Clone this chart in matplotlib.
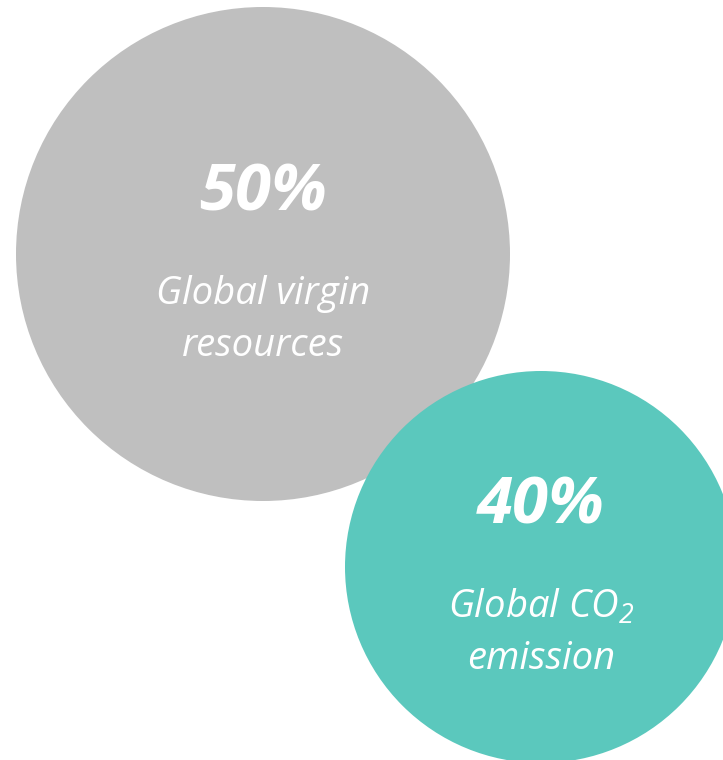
import matplotlib
matplotlib.use("Agg")
import matplotlib.pyplot as plt
from matplotlib.patches import Circle

# Data
values = ["50%", "40%"]
labels = ["Global virgin\nresources", "Global CO$_2$\nemission"]
colors = ["#BFBFBF", "#5BC8BD"]

# Layout (pixels, y downward)
centers = [(263, 254), (541, 567)]
radii = [247, 196]

plt.rcParams['mathtext.fontset'] = 'custom'
plt.rcParams['mathtext.rm'] = 'Open Sans:italic'
plt.rcParams['mathtext.it'] = 'Open Sans:italic'

fig = plt.figure(figsize=(7.23, 7.60), dpi=100)
ax = fig.add_axes([0, 0, 1, 1])
ax.set_xlim(0, 723)
ax.set_ylim(760, 0)
ax.set_aspect('equal')
ax.axis('off')

for i, (v, lab, c) in enumerate(zip(values, labels, colors)):
    cx, cy = centers[i]
    ax.add_patch(Circle((cx, cy), radii[i], facecolor=c, edgecolor='none', zorder=i + 1))
    ax.text(cx, cy - 60, v, ha='center', va='center', color='white',
            fontsize=47, fontweight='bold', fontstyle='italic', family='Open Sans', zorder=10)
    ax.text(cx, cy + 66, lab, ha='center', va='center', color='white',
            fontsize=27.5, fontstyle='italic', family='Open Sans', linespacing=1.45, zorder=10)

fig.savefig("out.png", dpi=100, facecolor='white')
